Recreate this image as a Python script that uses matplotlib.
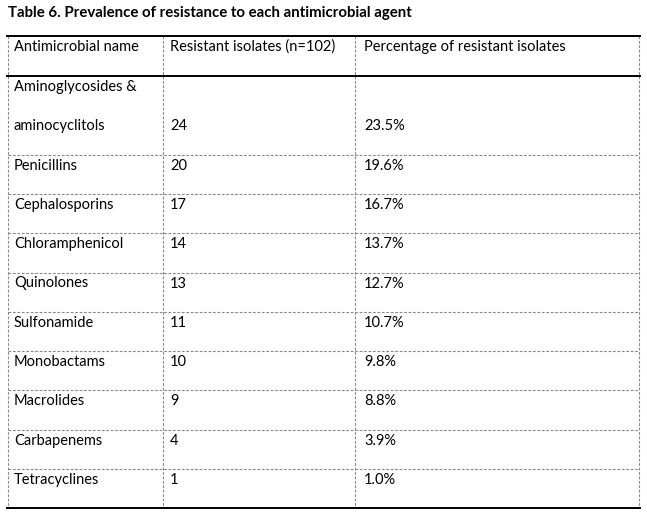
import matplotlib.pyplot as plt

# table contents
title = "Table 6. Prevalence of resistance to each antimicrobial agent"
headers = ["Antimicrobial name", "Resistant isolates (n=102)", "Percentage of resistant isolates"]
names = ["Aminoglycosides &\n\naminocyclitols", "Penicillins", "Cephalosporins", "Chloramphenicol",
         "Quinolones", "Sulfonamide", "Monobactams", "Macrolides", "Carbapenems", "Tetracyclines"]
counts = [24, 20, 17, 14, 13, 11, 10, 9, 4, 1]
percents = ["23.5%", "19.6%", "16.7%", "13.7%", "12.7%", "10.7%", "9.8%", "8.8%", "3.9%", "1.0%"]

W, H = 647, 514
fig = plt.figure(figsize=(W / 100, H / 100), dpi=100)
ax = fig.add_axes([0, 0, 1, 1])
ax.set_xlim(0, W)
ax.set_ylim(H, 0)
ax.axis("off")

font = "Lato"

# pick font sizes so text widths match the reference (pixels)
renderer = fig.canvas.get_renderer()
def fit_size(s, target, weight="normal"):
    t = ax.text(0, 0, s, fontsize=10, family=font, fontweight=weight)
    w = t.get_window_extent(renderer).width
    t.remove()
    return 10 * target / w

fs = fit_size(headers[2], 200)
fs_title = fit_size(title, 404, "bold")

# layout in pixels
col_x = [7.5, 162.5, 355, 638.5]
top = 35.5
header_bot = 76
row_h = 39.3
ys = [top, header_bot, header_bot + 2 * row_h]
for i in range(1, len(names)):
    ys.append(ys[-1] + row_h)

dash = dict(color="#8a8a8a", lw=0.8, ls=(0, (2.5, 1.5)))
solid = dict(color="black", lw=1.4)

ax.text(8, 13.5, title, fontsize=fs_title, fontweight="bold", family=font, va="center", ha="left")

# vertical dashed lines
for x in col_x:
    ax.plot([x, x], [ys[0], ys[-1]], **dash)
# horizontal lines
for j, y in enumerate(ys):
    if j in (0, 1, len(ys) - 1):
        ax.plot([col_x[0] - 1, col_x[-1] + 1], [y, y], **solid)
    else:
        ax.plot([col_x[0], col_x[-1]], [y, y], **dash)

tx = [14, 170, 364]
for k, h in enumerate(headers):
    ax.text(tx[k], top + 11.5, h, fontsize=fs, family=font, va="center", ha="left")

for i, name in enumerate(names):
    y0 = ys[i + 1]
    if i == 0:
        ax.text(tx[0], y0 + 11, "Aminoglycosides &", fontsize=fs, family=font, va="center")
        yl = y0 + 11 + row_h
        ax.text(tx[0], yl, "aminocyclitols", fontsize=fs, family=font, va="center")
    else:
        yl = y0 + 11
        ax.text(tx[0], yl, name, fontsize=fs, family=font, va="center")
    ax.text(tx[1], yl, str(counts[i]), fontsize=fs, family=font, va="center")
    ax.text(tx[2], yl, percents[i], fontsize=fs, family=font, va="center")

fig.savefig("out.png", dpi=100)
